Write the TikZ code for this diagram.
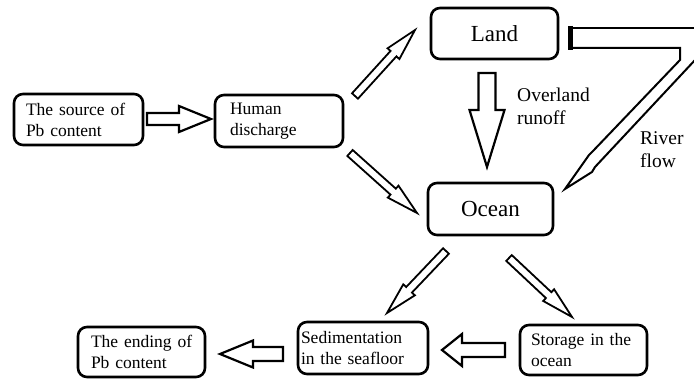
\documentclass[tikz,border=0pt]{standalone}
\usepackage{fontspec}
\setmainfont{Liberation Serif}
\usetikzlibrary{calc}
\newcommand\hollowarrow[5]{%
  \coordinate (hab) at ($(#2)!#5!(#1)$);
  \draw[arr] ($(#1)!#3!90:(#2)$) -- ($(hab)!#3!-90:(#1)$) -- ($(hab)!#4!-90:(#1)$)
    -- (#2) -- ($(hab)!#4!90:(#1)$) -- ($(hab)!#3!90:(#1)$) -- ($(#1)!#3!-90:(#2)$) -- cycle;}
\begin{document}
\begin{tikzpicture}[x=1pt,y=-1pt,
  box/.style={draw,line width=2.6pt,rounded corners=9pt,align=left,inner ysep=0pt,
    font=\fontsize{17.5}{21}\selectfont},
  bigbox/.style={draw,line width=2.6pt,rounded corners=9pt,align=center,inner sep=0pt,
    font=\fontsize{23}{26}\selectfont},
  arr/.style={draw,line width=2.2pt,line join=miter,fill=white},
  lbl/.style={anchor=base west,inner sep=0pt,font=\fontsize{19.5}{23}\selectfont}]
\useasboundingbox (0,0) rectangle (694,379);

% boxes
\node[box,inner xsep=12pt,text width=105pt,minimum width=129pt,minimum height=51pt] (src) at (78.5,119.5) {\mbox{The source of}\\\mbox{Pb content}};
\node[box,inner xsep=15pt,text width=98pt,minimum width=128pt,minimum height=52pt] (hum) at (279,121) {Human\\discharge};
\node[bigbox,minimum width=127pt,minimum height=51pt] (land) at (494.5,33.5) {Land};
\node[bigbox,minimum width=125pt,minimum height=52pt] (ocean) at (490.5,209) {Ocean};
\node[box,inner xsep=3pt,text width=124pt,minimum width=130pt,minimum height=52pt] (sed) at (363,348) {\mbox{Sedimentation}\\\mbox{in the seafloor}};
\node[box,inner xsep=13pt,text width=101pt,minimum width=127pt,minimum height=50pt] (end) at (141.5,352) {\mbox{The ending of}\\\mbox{Pb content}};
\node[box,inner xsep=11pt,text width=105pt,minimum width=127pt,minimum height=50pt] (sto) at (583.5,350) {\mbox{Storage in the}\\\mbox{ocean}};

% arrow end points
\coordinate (a1t) at (147,119);  \coordinate (a1h) at (211,119);
\coordinate (a2t) at (487,73);   \coordinate (a2h) at (487,167);
\coordinate (a3t) at (505,350);  \coordinate (a3h) at (442,350);
\coordinate (a4t) at (283,354);  \coordinate (a4h) at (220,354);
\coordinate (d1t) at (355,96);   \coordinate (d1h) at (415,30);
\coordinate (d2t) at (350,153);  \coordinate (d2h) at (417,213);
\coordinate (d3t) at (446,251);  \coordinate (d3h) at (387,313);
\coordinate (d4t) at (509,258);  \coordinate (d4h) at (572,317);

% block arrows
\hollowarrow{a1t}{a1h}{6pt}{13pt}{32pt}
\hollowarrow{a2t}{a2h}{8.5pt}{17.5pt}{57pt}
\hollowarrow{a3t}{a3h}{7pt}{16pt}{20pt}
\hollowarrow{a4t}{a4h}{7pt}{13.5pt}{33pt}

% thin diagonal arrows
\begin{scope}[arr/.style={draw,line width=1.8pt,line join=miter,fill=white}]
\hollowarrow{d1t}{d1h}{4pt}{8pt}{32pt}
\hollowarrow{d2t}{d2h}{4pt}{8pt}{32pt}
\hollowarrow{d3t}{d3h}{4pt}{8pt}{32pt}
\hollowarrow{d4t}{d4h}{4pt}{8pt}{32pt}
\end{scope}

% river flow
\coordinate (rtip) at (565,189);
\begin{scope}
\clip (0,0) rectangle (694,379);
\draw[line width=2pt] (568,28) -- (710,28);
\draw[line width=5pt] (570.5,26) -- (570.5,50);
\draw[line width=2pt,line join=miter] (568,48) -- (680,48) -- (680,60) -- (593,151) -- (589,155)
  -- (rtip) -- (592,172) -- (595,167) -- (710,44);
\end{scope}

% labels
\node[lbl] (ov1) at (517,102) {Overland};
\node[lbl] (ov2) at (517,125) {runoff};
\node[lbl] (rv1) at (640,145) {River};
\node[lbl] (rv2) at (640,168) {flow};
\end{tikzpicture}
\end{document}
